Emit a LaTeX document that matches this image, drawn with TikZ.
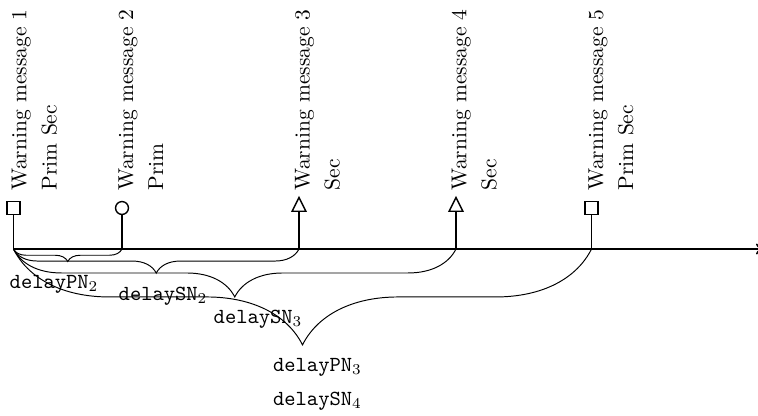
\documentclass[tikz,border=0pt]{standalone}
\usetikzlibrary{decorations.pathreplacing,shapes.geometric}
\begin{document}
\begin{tikzpicture}[x={(0.4651pt,0)}, y={(0,-0.4651pt)},
  sq/.style={draw, rectangle, minimum size=6.0pt, inner sep=0pt, line width=0.65pt},
  ci/.style={draw, circle, minimum size=6.0pt, inner sep=0pt, line width=0.65pt},
  tri/.style={draw, isosceles triangle, isosceles triangle stretches, shape border rotate=90,
              minimum width=6.4pt, minimum height=6.4pt, inner sep=0pt, line width=0.65pt},
  stem/.style={line width=0.85pt},
  axisline/.style={line width=0.9pt, ->},
  brc/.style={decorate, decoration={brace, mirror, amplitude=#1}, line width=0.45pt},
  rot/.style={rotate=90, anchor=base west, inner sep=0pt},
  lbl/.style={anchor=base west, inner sep=0pt}]
\useasboundingbox (0,0) rectangle (758,415);

% markers
\node[sq]  (m1) at (13.5,208) {};
\node[ci]  (m2) at (122,208) {};
\node[tri] (m3) at (299,207) {};
\node[tri] (m4) at (456,207) {};
\node[sq]  (m5) at (591.5,208) {};

% axis points
\coordinate (base) at (0,249);
\coordinate (a1) at (m1 |- base);
\coordinate (a2) at (m2 |- base);
\coordinate (a3) at (m3 |- base);
\coordinate (a4) at (m4 |- base);
\coordinate (a5) at (m5 |- base);
\coordinate (aend) at (762,249);

\draw[axisline] (a1) -- (aend);

% stems
\draw[stem] (m1.south) -- (a1);
\draw[stem] (m2.south) -- (a2);
\draw[stem] (m3.lower side) -- (a3);
\draw[stem] (m4.lower side) -- (a4);
\draw[stem] (m5.south) -- (a5);

% braces
\draw[brc=5.8pt]  (a1) -- (a2);
\draw[brc=11.2pt] (a1) -- (a3);
\draw[brc=22.3pt] (a1) -- (a4);
\draw[brc=44.6pt] (a1) -- (a5);

% rotated texts
\node[rot] (w1) at (26.4,190.5) {Warning message 1};
\node[rot] (p1) at (56.7,190.5) {Prim Sec};
\node[rot] (w2) at (133,190.5) {Warning message 2};
\node[rot] (p2) at (163,190.5) {Prim};
\node[rot] (w3) at (309.7,190.5) {Warning message 3};
\node[rot] (p3) at (339.7,190.5) {Sec};
\node[rot] (w4) at (466.4,190.5) {Warning message 4};
\node[rot] (p4) at (496.4,190.5) {Sec};
\node[rot] (w5) at (603,190.5) {Warning message 5};
\node[rot] (p5) at (633,190.5) {Prim Sec};

% delay labels
\node[lbl] (d1) at (9.3,288)   {\texttt{delayPN}$_2$};
\node[lbl] (d2) at (118.3,300) {\texttt{delaySN}$_2$};
\node[lbl] (d3) at (213.3,323.3) {\texttt{delaySN}$_3$};
\node[lbl] (d4) at (272.7,371.7) {\texttt{delayPN}$_3$};
\node[lbl] (d5) at (272.7,405) {\texttt{delaySN}$_4$};
\end{tikzpicture}
\end{document}
